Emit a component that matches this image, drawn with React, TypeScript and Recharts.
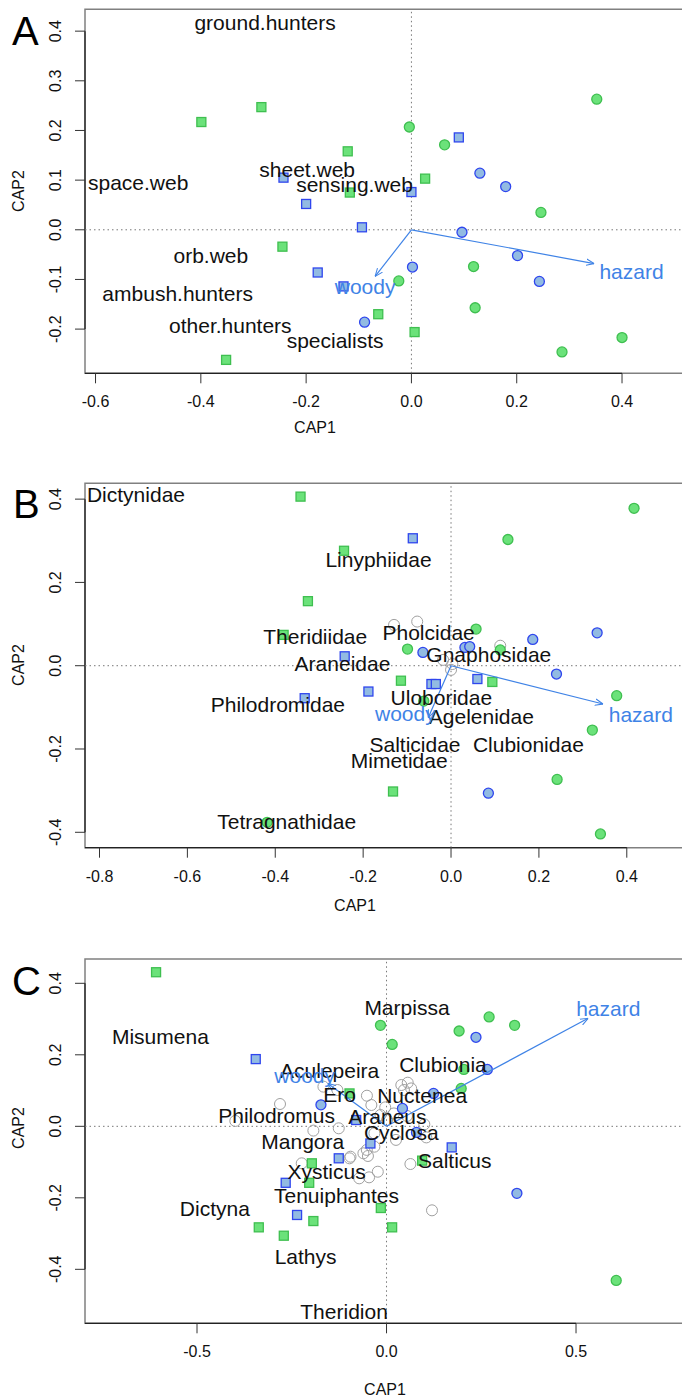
import React from 'react';
import { ScatterChart, Scatter, XAxis, YAxis, ReferenceLine, ReferenceArea } from 'recharts';

const FONT = '"Liberation Sans", Arial, Helvetica, sans-serif';

// ---- Panel A : feeding guilds ----
const aGreenSquares = [
  { x: -0.399, y: 0.217 }, { x: -0.285, y: 0.247 }, { x: -0.121, y: 0.158 }, { x: 0.026, y: 0.103 },
  { x: -0.117, y: 0.075 }, { x: -0.245, y: -0.034 }, { x: -0.063, y: -0.17 }, { x: 0.006, y: -0.206 },
  { x: -0.352, y: -0.262 },
];
const aGreenCircles = [
  { x: -0.004, y: 0.207 }, { x: 0.063, y: 0.171 }, { x: 0.352, y: 0.263 }, { x: 0.246, y: 0.035 },
  { x: 0.118, y: -0.074 }, { x: -0.024, y: -0.103 }, { x: 0.121, y: -0.157 }, { x: 0.4, y: -0.217 },
  { x: 0.286, y: -0.246 },
];
const aBlueSquares = [
  { x: 0.09, y: 0.186 }, { x: -0.243, y: 0.105 }, { x: 0.0, y: 0.076 }, { x: -0.2, y: 0.052 },
  { x: -0.094, y: 0.005 }, { x: -0.178, y: -0.086 }, { x: -0.129, y: -0.114 },
];
const aBlueCircles = [
  { x: 0.13, y: 0.114 }, { x: 0.179, y: 0.087 }, { x: 0.096, y: -0.005 }, { x: 0.2015, y: -0.052 },
  { x: 0.002, y: -0.075 }, { x: 0.243, y: -0.104 }, { x: -0.089, y: -0.186 },
];
const aGrayCircles: { x: number; y: number }[] = [];
const aLabels = [
  { x: -0.278, y: 0.418, text: 'ground.hunters' },
  { x: -0.519, y: 0.095, text: 'space.web' },
  { x: -0.198, y: 0.121, text: 'sheet.web' },
  { x: -0.108, y: 0.091, text: 'sensing.web' },
  { x: -0.381, y: -0.052, text: 'orb.web' },
  { x: -0.444, y: -0.129, text: 'ambush.hunters' },
  { x: -0.344, y: -0.193, text: 'other.hunters' },
  { x: -0.145, y: -0.223, text: 'specialists' },
];
const aArrowTips = [{ x: -0.069, y: -0.094 }, { x: 0.347, y: -0.068 }];
const aArrowLabels = [
  { x: -0.088, y: -0.114, text: 'woody' },
  { x: 0.418, y: -0.084, text: 'hazard' },
];
const aXTicks = [-0.6, -0.4, -0.2, 0, 0.2, 0.4];
const aYTicks = [-0.2, -0.1, 0, 0.1, 0.2, 0.3, 0.4];

// ---- Panel B : families ----
const bGreenSquares = [
  { x: -0.3425, y: 0.406 }, { x: -0.2435, y: 0.276 }, { x: -0.3257, y: 0.155 }, { x: -0.381, y: 0.074 },
  { x: -0.114, y: -0.036 }, { x: 0.094, y: -0.039 }, { x: -0.132, y: -0.302 },
];
const bGreenCircles = [
  { x: 0.4165, y: 0.378 }, { x: 0.1295, y: 0.303 }, { x: 0.057, y: 0.088 }, { x: -0.099, y: 0.04 },
  { x: 0.112, y: 0.038 }, { x: 0.377, y: -0.072 }, { x: -0.062, y: -0.085 }, { x: 0.3216, y: -0.1545 },
  { x: 0.2414, y: -0.273 }, { x: -0.4185, y: -0.376 }, { x: 0.34, y: -0.404 },
];
const bBlueSquares = [
  { x: -0.087, y: 0.306 }, { x: -0.242, y: 0.0226 }, { x: -0.0446, y: -0.044 }, { x: -0.0346, y: -0.044 },
  { x: 0.06, y: -0.032 }, { x: -0.188, y: -0.062 }, { x: -0.333, y: -0.078 },
];
const bBlueCircles = [
  { x: 0.3325, y: 0.079 }, { x: 0.186, y: 0.063 }, { x: -0.064, y: 0.032 }, { x: 0.0316, y: 0.044 },
  { x: 0.0425, y: 0.046 }, { x: 0.24, y: -0.02 }, { x: 0.085, y: -0.306 },
];
const bGrayCircles = [
  { x: -0.1297, y: 0.098 }, { x: -0.077, y: 0.106 }, { x: 0.112, y: 0.048 },
  { x: -0.018, y: 0.014 }, { x: 0.003, y: 0.004 }, { x: 0.0, y: -0.01 },
];
const bLabels = [
  { x: -0.717, y: 0.41, text: 'Dictynidae' },
  { x: -0.165, y: 0.256, text: 'Linyphiidae' },
  { x: -0.309, y: 0.07, text: 'Theridiidae' },
  { x: -0.051, y: 0.079, text: 'Pholcidae' },
  { x: 0.086, y: 0.028, text: 'Gnaphosidae' },
  { x: -0.247, y: 0.006, text: 'Araneidae' },
  { x: -0.022, y: -0.076, text: 'Uloboridae' },
  { x: -0.394, y: -0.094, text: 'Philodromidae' },
  { x: 0.069, y: -0.121, text: 'Agelenidae' },
  { x: -0.082, y: -0.19, text: 'Salticidae' },
  { x: 0.176, y: -0.19, text: 'Clubionidae' },
  { x: -0.118, y: -0.2265, text: 'Mimetidae' },
  { x: -0.374, y: -0.375, text: 'Tetragnathidae' },
];
const bArrowTips = [{ x: -0.052, y: -0.125 }, { x: 0.346, y: -0.092 }];
const bArrowLabels = [
  { x: -0.104, y: -0.114, text: 'woody' },
  { x: 0.432, y: -0.118, text: 'hazard' },
];
const bXTicks = [-0.8, -0.6, -0.4, -0.2, 0, 0.2, 0.4];
const bYTicks = [-0.4, -0.2, 0, 0.2, 0.4];

// ---- Panel C : genera ----
const cGreenSquares = [
  { x: -0.608, y: 0.431 }, { x: -0.0976, y: 0.092 }, { x: -0.197, y: -0.1035 }, { x: 0.094, y: -0.096 },
  { x: -0.204, y: -0.158 }, { x: -0.015, y: -0.2285 }, { x: -0.193, y: -0.265 }, { x: -0.337, y: -0.2826 },
  { x: 0.0148, y: -0.2826 }, { x: -0.271, y: -0.306 },
];
const cGreenCircles = [
  { x: -0.016, y: 0.2825 }, { x: 0.015, y: 0.229 }, { x: 0.1915, y: 0.2666 }, { x: 0.2707, y: 0.306 },
  { x: 0.338, y: 0.2825 }, { x: 0.204, y: 0.159 }, { x: 0.197, y: 0.106 }, { x: 0.606, y: -0.431 },
];
const cBlueSquares = [
  { x: -0.345, y: 0.188 }, { x: -0.08, y: 0.0176 }, { x: -0.0425, y: -0.048 }, { x: 0.172, y: -0.059 },
  { x: -0.126, y: -0.0895 }, { x: -0.266, y: -0.158 }, { x: -0.236, y: -0.248 },
];
const cBlueCircles = [
  { x: 0.236, y: 0.249 }, { x: 0.266, y: 0.159 }, { x: 0.124, y: 0.092 }, { x: -0.173, y: 0.06 },
  { x: 0.042, y: 0.05 }, { x: 0.079, y: -0.017 }, { x: 0.344, y: -0.1875 },
];
const cGrayCircles = [
  { x: -0.1665, y: 0.111 }, { x: -0.1296, y: 0.1016 }, { x: -0.281, y: 0.0624 }, { x: -0.0517, y: 0.0856 },
  { x: -0.04, y: 0.0596 }, { x: -0.0034, y: 0.053 }, { x: 0.039, y: 0.1155 }, { x: 0.056, y: 0.122 },
  { x: 0.046, y: 0.1016 }, { x: 0.065, y: 0.106 }, { x: -0.399, y: 0.015 }, { x: -0.193, y: -0.012 },
  { x: -0.126, y: -0.0056 }, { x: -0.032, y: -0.0196 }, { x: 0.0195, y: 0.036 }, { x: 0.054, y: 0.029 },
  { x: 0.0997, y: 0.0056 }, { x: 0.025, y: -0.038 }, { x: 0.105, y: -0.031 }, { x: -0.052, y: -0.066 },
  { x: -0.061, y: -0.0755 }, { x: -0.032, y: -0.057 }, { x: -0.049, y: -0.083 }, { x: -0.0976, y: -0.0895 },
  { x: -0.2237, y: -0.1035 }, { x: -0.023, y: -0.127 }, { x: -0.072, y: -0.1455 }, { x: -0.046, y: -0.1427 },
  { x: 0.063, y: -0.1055 }, { x: 0.12, y: -0.235 }, { x: 0.0016, y: 0.0176 }, { x: -0.016, y: 0.0316 },
  { x: -0.095, y: -0.085 },
];
const cLabels = [
  { x: -0.5966, y: 0.2507, text: 'Misumena' },
  { x: 0.054, y: 0.332, text: 'Marpissa' },
  { x: 0.149, y: 0.174, text: 'Clubionia' },
  { x: -0.15, y: 0.1556, text: 'Aculepeira' },
  { x: -0.124, y: 0.09, text: 'Ero' },
  { x: 0.094, y: 0.085, text: 'Nuctenea' },
  { x: -0.29, y: 0.029, text: 'Philodromus' },
  { x: 0.0024, y: 0.027, text: 'Araneus' },
  { x: 0.039, y: -0.018, text: 'Cyclosa' },
  { x: -0.221, y: -0.043, text: 'Mangora' },
  { x: 0.18, y: -0.096, text: 'Salticus' },
  { x: -0.158, y: -0.125, text: 'Xysticus' },
  { x: -0.132, y: -0.194, text: 'Tenuiphantes' },
  { x: -0.453, y: -0.231, text: 'Dictyna' },
  { x: -0.2135, y: -0.365, text: 'Lathys' },
  { x: -0.112, y: -0.5186, text: 'Theridion' },
];
const cArrowTips = [{ x: -0.155, y: 0.12 }, { x: 0.532, y: 0.302 }];
const cArrowLabels = [
  { x: -0.216, y: 0.1435, text: 'woody' },
  { x: 0.585, y: 0.33, text: 'hazard' },
];
const cXTicks = [-0.5, 0, 0.5];
const cYTicks = [-0.4, -0.2, 0, 0.2, 0.4];

const GREEN_FILL = '#6be27a';
const GREEN_EDGE = '#3fbf50';
const BLUE_FILL = '#92bbe2';
const BLUE_EDGE = '#2f46ee';
const ARROW = '#3f83e6';

const square = (fill: string, edge: string) => (p: any) => (
  <rect x={p.cx - 4.5} y={p.cy - 4.5} width={9} height={9} fill={fill} stroke={edge} strokeWidth={1.3} />
);
const circle = (fill: string, edge: string) => (p: any) => (
  <circle cx={p.cx} cy={p.cy} r={5} fill={fill} stroke={edge} strokeWidth={1.3} />
);
const openCircle = (p: any) => (
  <circle cx={p.cx} cy={p.cy} r={5.5} fill="none" stroke="#a0a0a0" strokeWidth={1} />
);
const textShape = (color: string) => (p: any) => (
  <text
    x={p.cx}
    y={p.cy}
    textAnchor="middle"
    dominantBaseline="central"
    fontFamily={FONT}
    fontSize={21}
    fill={color}
  >
    {p.payload.text}
  </text>
);
const noShape = () => <g />;

const XTick = (p: any) => (
  <text x={p.x} y={p.y + 24} textAnchor="middle" fontFamily={FONT} fontSize={16} fill="#111">
    {Number(p.payload.value).toFixed(1)}
  </text>
);
const YTick = (p: any) => (
  <text
    transform={`translate(${p.x - 14},${p.y}) rotate(-90)`}
    textAnchor="middle"
    fontFamily={FONT}
    fontSize={16}
    fill="#111"
  >
    {Number(p.payload.value).toFixed(1)}
  </text>
);

type Pt = { x: number; y: number };

function Panel(props: {
  top: number;
  width: number;
  height: number;
  margin: { top: number; right: number; bottom: number; left: number };
  xDomain: [number, number];
  yDomain: [number, number];
  xTicks: number[];
  yTicks: number[];
  greenSquares: Pt[];
  greenCircles: Pt[];
  blueSquares: Pt[];
  blueCircles: Pt[];
  grayCircles: Pt[];
  labels: (Pt & { text: string })[];
  arrowTips: Pt[];
  arrowLabels: (Pt & { text: string })[];
}) {
  const [x0, x1] = props.xDomain;
  const [y0, y1] = props.yDomain;
  const xt = props.xTicks;
  const yt = props.yTicks;
  return (
    <div style={{ position: 'absolute', left: 0, top: props.top }}>
      <ScatterChart width={props.width} height={props.height} margin={props.margin}>
        <XAxis
          type="number"
          dataKey="x"
          domain={props.xDomain}
          ticks={xt}
          interval={0}
          allowDataOverflow
          axisLine={false}
          tickLine={{ stroke: '#333' }}
          tickSize={10}
          tickMargin={0}
          height={40}
          tick={<XTick />}
        />
        <YAxis
          type="number"
          dataKey="y"
          domain={props.yDomain}
          ticks={yt}
          interval={0}
          allowDataOverflow
          axisLine={false}
          tickLine={{ stroke: '#333' }}
          tickSize={10}
          tickMargin={0}
          width={60}
          tick={<YTick />}
        />
        <ReferenceArea x1={x0} x2={x1} y1={y0} y2={y1} fill="none" fillOpacity={0} stroke="#808080" strokeWidth={1.5} />
        <ReferenceLine segment={[{ x: x0, y: y0 }, { x: xt[xt.length - 1], y: y0 }]} stroke="#222" strokeWidth={1.3} />
        <ReferenceLine segment={[{ x: x0, y: yt[0] }, { x: x0, y: yt[yt.length - 1] }]} stroke="#222" strokeWidth={1.3} />
        <ReferenceLine x={0} stroke="#777" strokeDasharray="1.5 3" />
        <ReferenceLine y={0} stroke="#777" strokeDasharray="1.5 3" />
        <Scatter data={props.grayCircles} shape={openCircle} isAnimationActive={false} />
        <Scatter data={props.greenSquares} shape={square(GREEN_FILL, GREEN_EDGE)} isAnimationActive={false} />
        <Scatter data={props.greenCircles} shape={circle(GREEN_FILL, GREEN_EDGE)} isAnimationActive={false} />
        <Scatter data={props.blueSquares} shape={square(BLUE_FILL, BLUE_EDGE)} isAnimationActive={false} />
        <Scatter data={props.blueCircles} shape={circle(BLUE_FILL, BLUE_EDGE)} isAnimationActive={false} />
        {props.arrowTips.map((tip, i) => (
          <Scatter
            key={'arrow' + i}
            data={[{ x: 0, y: 0 }, tip]}
            line={{ stroke: ARROW, strokeWidth: 1.2, markerEnd: 'url(#capArrow)' }}
            lineType="joint"
            shape={noShape}
            isAnimationActive={false}
          />
        ))}
        <Scatter data={props.labels} shape={textShape('#111')} isAnimationActive={false} />
        <Scatter data={props.arrowLabels} shape={textShape(ARROW)} isAnimationActive={false} />
      </ScatterChart>
    </div>
  );
}

export default function App() {
  const m = (top: number, bottom: number, right: number) => ({ top, bottom, right, left: 25 });
  return (
    <div
      style={{
        position: 'absolute',
        left: 0,
        top: 0,
        width: 682,
        height: 1399,
        overflow: 'hidden',
        background: '#fff',
      }}
    >
      <svg width={0} height={0} style={{ position: 'absolute' }}>
        <defs>
          <marker
            id="capArrow"
            viewBox="0 0 10 10"
            refX={10}
            refY={5}
            markerWidth={8}
            markerHeight={8}
            orient="auto"
            markerUnits="userSpaceOnUse"
          >
            <path d="M0,1 L10,5 L0,9" fill="none" stroke={ARROW} strokeWidth={1.3} />
          </marker>
        </defs>
      </svg>
      <Panel
        top={0}
        width={730}
        height={420}
        margin={m(9.3, 6.7, 13.2)}
        xDomain={[-0.62, 0.58]}
        yDomain={[-0.289, 0.444]}
        xTicks={aXTicks}
        yTicks={aYTicks}
        greenSquares={aGreenSquares}
        greenCircles={aGreenCircles}
        blueSquares={aBlueSquares}
        blueCircles={aBlueCircles}
        grayCircles={aGrayCircles}
        labels={aLabels}
        arrowTips={aArrowTips}
        arrowLabels={aArrowLabels}
      />
      <Panel
        top={470}
        width={710}
        height={430}
        margin={m(13.3, 12.3, 12.9)}
        xDomain={[-0.833, 0.56]}
        yDomain={[-0.437, 0.438]}
        xTicks={bXTicks}
        yTicks={bYTicks}
        greenSquares={bGreenSquares}
        greenCircles={bGreenCircles}
        blueSquares={bBlueSquares}
        blueCircles={bBlueCircles}
        grayCircles={bGrayCircles}
        labels={bLabels}
        arrowTips={bArrowTips}
        arrowLabels={bArrowLabels}
      />
      <Panel
        top={950}
        width={720}
        height={449}
        margin={m(9, 35.7, 15.1)}
        xDomain={[-0.7955, 0.84]}
        yDomain={[-0.551, 0.468]}
        xTicks={cXTicks}
        yTicks={cYTicks}
        greenSquares={cGreenSquares}
        greenCircles={cGreenCircles}
        blueSquares={cBlueSquares}
        blueCircles={cBlueCircles}
        grayCircles={cGrayCircles}
        labels={cLabels}
        arrowTips={cArrowTips}
        arrowLabels={cArrowLabels}
      />
      <svg
        width={682}
        height={1399}
        style={{ position: 'absolute', left: 0, top: 0, pointerEvents: 'none' }}
        fontFamily={FONT}
      >
        <text x={12} y={45} fontSize={40} fill="#000">A</text>
        <text x={13} y={518} fontSize={40} fill="#000">B</text>
        <text x={12} y={995} fontSize={40} fill="#000">C</text>
        <text transform="translate(24,191) rotate(-90)" textAnchor="middle" fontSize={16} fill="#111">CAP2</text>
        <text transform="translate(24,665) rotate(-90)" textAnchor="middle" fontSize={16} fill="#111">CAP2</text>
        <text transform="translate(24,1128) rotate(-90)" textAnchor="middle" fontSize={16} fill="#111">CAP2</text>
        <text x={315} y={433} textAnchor="middle" fontSize={16} fill="#111">CAP1</text>
        <text x={355} y={911} textAnchor="middle" fontSize={16} fill="#111">CAP1</text>
        <text x={385} y={1395} textAnchor="middle" fontSize={16} fill="#111">CAP1</text>
      </svg>
    </div>
  );
}
